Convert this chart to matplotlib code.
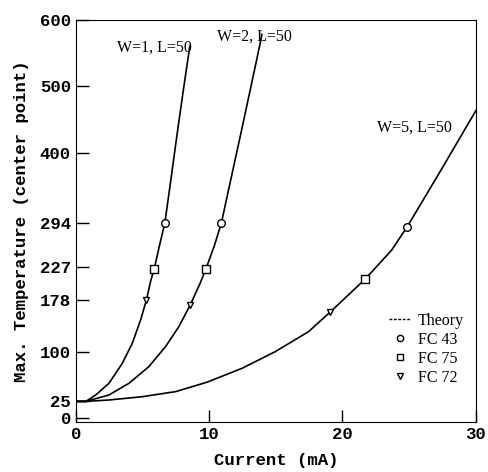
import matplotlib
matplotlib.use("Agg")
import matplotlib.pyplot as plt
from matplotlib.lines import Line2D

# Theory curves
w1_current = [0.0, 0.75, 1.5, 2.49, 3.49, 4.24, 4.86, 5.3, 5.61, 5.9, 6.3, 6.68, 7.11, 7.6, 8.08, 8.55]
w1_temp    = [25, 25, 34.7, 52.3, 82.5, 112.6, 147.7, 178, 206, 226, 262, 294, 356, 428, 496, 560]
w2_current = [0.0, 0.75, 2.49, 3.99, 5.48, 6.73, 7.73, 8.6, 9.3, 9.75, 10.4, 10.92, 11.6, 12.35, 13.1, 13.8, 13.96]
w2_temp    = [25, 25, 34.7, 52.3, 77.4, 107.5, 137.6, 171, 202, 224, 260, 294, 357, 426, 496, 562, 578]
w5_current = [0.0, 0.75, 2.49, 4.99, 7.48, 9.85, 12.47, 14.96, 17.45, 19.1, 21.69, 23.69, 24.85, 27.55, 30.0]
w5_temp    = [25, 25, 27.1, 32.1, 39.7, 54, 74.9, 100, 130, 160, 209, 253, 288, 379, 463]

# Measured points
fc43_current = [6.68, 10.92, 24.85]
fc43_temp    = [294, 294, 288]
fc75_current = [5.9, 9.75, 21.69]
fc75_temp    = [224, 224, 209]
fc72_current = [5.3, 8.6, 19.1]
fc72_temp    = [178, 171, 160]

curve_labels = ["W=1, L=50", "W=2, L=50", "W=5, L=50"]
yticks = [0, 25, 100, 178, 227, 294, 400, 500, 600]
xticks = [0, 10, 20, 30]

fig = plt.figure(figsize=(4.89, 4.72), dpi=100)
ax = fig.add_axes([0.155, 0.106, 0.818, 0.852])

for xs, ys in [(w1_current, w1_temp), (w2_current, w2_temp), (w5_current, w5_temp)]:
    ax.plot(xs, ys, color="black", lw=1.2, solid_joinstyle="round")

mk = dict(ls="none", mfc="white", mec="black", mew=1.0)
ax.plot(fc43_current, fc43_temp, marker="o", ms=5.5, **mk)
ax.plot(fc75_current, fc75_temp, marker="s", ms=5.5, **mk)
ax.plot(fc72_current, fc72_temp, marker="v", ms=5.0, **mk)

ax.set_xlim(0, 30)
ax.set_ylim(-6, 600)
ax.set_xticks(xticks)
ax.set_yticks(yticks)
mono = "Liberation Mono"
serif = "Liberation Serif"
ax.tick_params(direction="in", length=9, width=1, labelsize=12.5)
for lab in ax.get_xticklabels() + ax.get_yticklabels():
    lab.set_family(mono)
    lab.set_fontweight("bold")
ax.set_xlabel("Current (mA)", family=mono, fontsize=12.5, fontweight="bold", labelpad=8)
ax.set_ylabel("Max. Temperature (center point)", family=mono, fontsize=12.5,
              fontweight="bold", labelpad=8)

ax.text(3.1, 558, curve_labels[0], family=serif, fontsize=11.5, va="center")
ax.text(10.6, 575, curve_labels[1], family=serif, fontsize=11.5, va="center")
ax.text(22.6, 438, curve_labels[2], family=serif, fontsize=11.5, va="center")

handles = [
    Line2D([], [], color="black", ls=(0, (2, 1.2)), lw=1.0),
    Line2D([], [], marker="o", ms=4.5, **mk),
    Line2D([], [], marker="s", ms=4.5, **mk),
    Line2D([], [], marker="v", ms=4.5, **mk),
]
ax.legend(handles, ["Theory", "FC 43", "FC 75", "FC 72"], frameon=False,
          loc="upper left", bbox_to_anchor=(0.755, 0.30), handlelength=1.4,
          handletextpad=0.4, labelspacing=0.2, borderpad=0.2,
          prop={"family": serif, "size": 11.5})

fig.savefig("out.png", dpi=100)
